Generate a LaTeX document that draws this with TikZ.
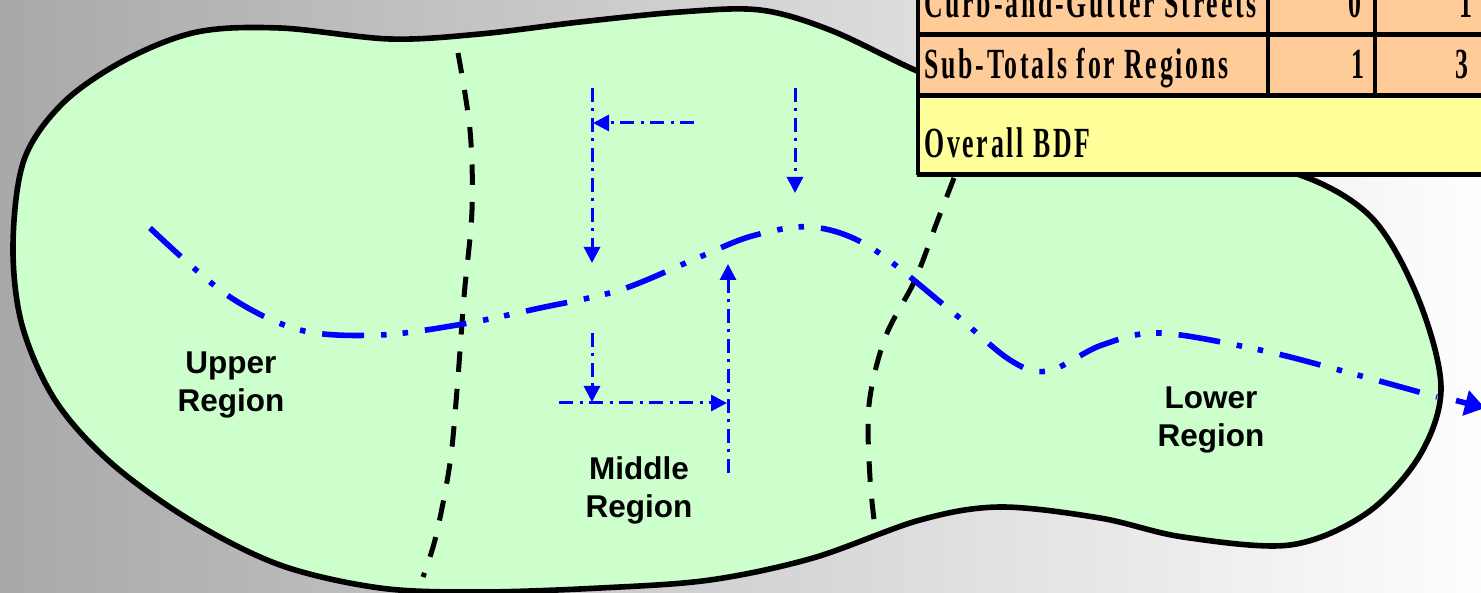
\documentclass[tikz,border=0pt]{standalone}
\usepackage{fontspec}
\setmainfont{Liberation Sans}
\newfontfamily\tablefont[FakeStretch=0.6,LetterSpace=6.5]{Liberation Serif}
\usetikzlibrary{arrows.meta}
\definecolor{regiongreen}{HTML}{CCFFCC}
\definecolor{rowcolor}{HTML}{FFCC99}
\definecolor{bdfcolor}{HTML}{FFFF99}
\definecolor{flowblue}{HTML}{0000FF}
\tikzset{
  regionlabel/.style={font=\fontsize{31.5}{38}\selectfont\bfseries, align=center, inner sep=0pt},
  rowlabel/.style={font=\fontsize{43}{43}\selectfont\tablefont\bfseries, anchor=base west, inner sep=0pt},
  rowvalue/.style={font=\fontsize{43}{43}\selectfont\tablefont\bfseries, anchor=base east, inner sep=0pt},
  boundary/.style={line width=5pt, dash pattern=on 20.5pt off 17pt},
  stream/.style={flowblue, line width=5.6pt, dash pattern=on 42pt off 17pt on 5.5pt off 16pt on 5.5pt off 17pt},
  flow/.style={flowblue, line width=3pt, dash pattern=on 14pt off 6.5pt on 3pt off 6.5pt,
    arrows={-{Triangle[length=16pt,width=16pt]}}},
}
\begin{document}
\begin{tikzpicture}[x=1pt, y=-1pt]
\useasboundingbox (0, 0) rectangle (1481, 593);
\shade [left color=black!34, right color=black!0.5] (0, 0) rectangle (1481, 593);

\draw [fill=regiongreen, line width=5.6pt] plot [smooth cycle, tension=0.55] coordinates {
  (13, 245) (24, 160) (63, 103) (125, 60) (197, 32) (280, 28) (390, 39) (480, 34) (580, 22)
  (680, 12) (760, 10) (830, 30) (917, 71) (1010, 110) (1100, 138) (1200, 158) (1300, 175)
  (1372, 218) (1418, 298) (1441, 387) (1420, 455) (1367, 513) (1290, 545) (1183, 537)
  (1100, 518) (1000, 507) (920, 520) (813, 558) (710, 580) (600, 588) (480, 592) (380, 588)
  (280, 565) (190, 520) (110, 462) (55, 400) (22, 325)};

\draw [boundary] plot [smooth, tension=0.55] coordinates {
  (458, 53) (470, 130) (472, 210) (464, 297) (457, 390) (450, 463) (436, 536) (423, 577)};
\draw [boundary] plot [smooth, tension=0.55] coordinates {
  (954, 178) (937, 222) (915, 280) (885, 338) (869, 405) (870, 478) (876, 536)};

\draw [stream] plot [smooth, tension=0.55] coordinates {
  (150, 228) (227, 295) (300, 330) (380, 335) (463, 324) (540, 308) (620, 290) (695, 259)
  (752, 236) (812, 227) (870, 247) (950, 310) (1010, 360) (1048, 371) (1102, 345) (1160, 333)
  (1260, 350) (1339, 370) (1437, 397)};
\coordinate (s1) at (1456, 400.5);
\coordinate (s2) at (1485, 408);
\draw [flowblue, line width=5.6pt, arrows={-{Triangle[length=20pt,width=25pt]}}] (s1) -- (s2);

\coordinate (a1) at (592, 88);
\coordinate (a2) at (592, 263);
\coordinate (a3) at (694, 123);
\coordinate (a4) at (593, 123);
\coordinate (a5) at (795, 88);
\coordinate (a6) at (795, 193);
\coordinate (a7) at (592, 333);
\coordinate (a8) at (592, 402);
\coordinate (a9) at (559, 403);
\coordinate (a10) at (727, 403);
\coordinate (a11) at (728, 473);
\coordinate (a12) at (728, 264);
\draw [flow] (a1) -- (a2);
\draw [flow] (a3) -- (a4);
\draw [flow] (a5) -- (a6);
\draw [flow] (a7) -- (a8);
\draw [flow] (a9) -- (a10);
\draw [flow] (a11) -- (a12);

\node [regionlabel] (upper) at (231, 385) {Upper\\Region};
\node [regionlabel] (middle) at (639, 490) {Middle\\Region};
\node [regionlabel] (lower) at (1211, 420) {Lower\\Region};

\fill [rowcolor] (917, 0) rectangle (1481, 95);
\fill [bdfcolor] (917, 95) rectangle (1481, 175);
\draw [line width=3.4pt] (918, 0) -- (918, 175);
\draw [line width=5pt] (916.5, 174.5) -- (1481, 174.5);
\draw [line width=5pt] (917, 34.5) -- (1481, 34.5);
\draw [line width=5pt] (917, 95.5) -- (1481, 95.5);
\draw [line width=3.4pt] (1268, 0) -- (1268, 95);
\draw [line width=3.4pt] (1375, 0) -- (1375, 95);

\node [rowlabel] (curb) at (924, 18) {Curb-and-Gutter Streets};
\node [rowvalue] (curb1) at (1362, 18) {0};
\node [rowvalue] (curb2) at (1473, 18) {1};
\node [rowlabel] (sub) at (924, 79) {Sub-Totals for Regions};
\node [rowvalue] (sub1) at (1365, 79) {1};
\node [rowvalue] (sub2) at (1469, 79) {3};
\node [rowlabel] (bdf) at (924, 158) {Overall BDF};
\end{tikzpicture}
\end{document}
